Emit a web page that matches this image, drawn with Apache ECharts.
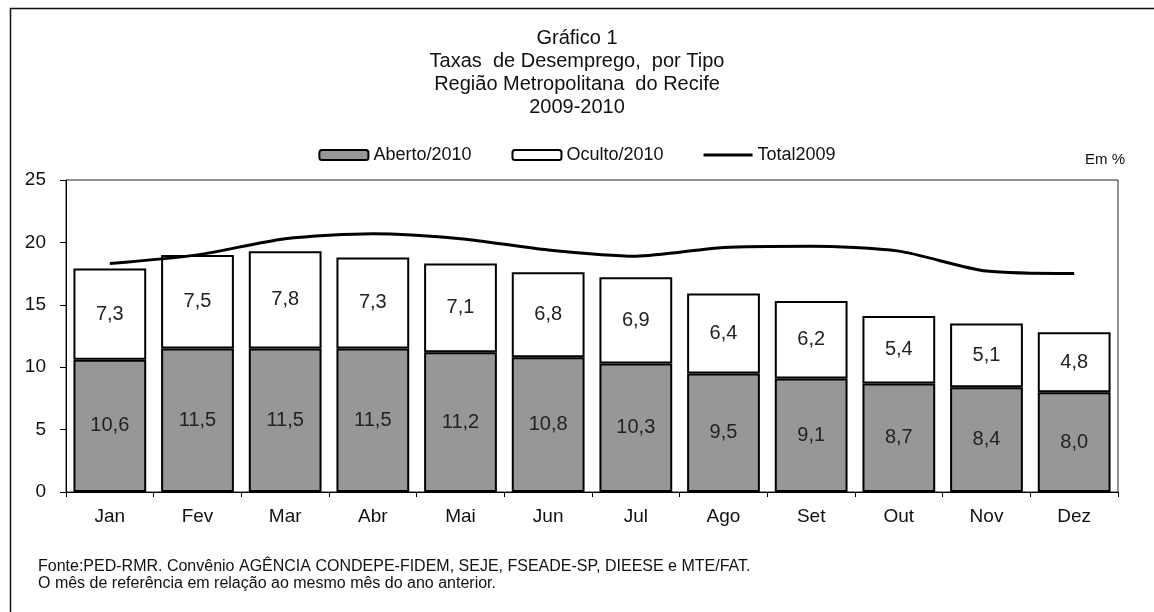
<!DOCTYPE html>
<html>
<head>
<meta charset="utf-8">
<script src="https://cdn.jsdelivr.net/npm/echarts@6/dist/echarts.min.js"></script>
<style>
  html, body { margin: 0; padding: 0; background: #fff; }
  #chart { width: 1154px; height: 612px; }
</style>
</head>
<body>
<div id="chart"></div>
<script>
// meses e valores (%)
var months = ['Jan', 'Fev', 'Mar', 'Abr', 'Mai', 'Jun', 'Jul', 'Ago', 'Set', 'Out', 'Nov', 'Dez'];
var aberto2010 = [10.6, 11.5, 11.5, 11.5, 11.2, 10.8, 10.3, 9.5, 9.1, 8.7, 8.4, 8.0];
var oculto2010 = [7.3, 7.5, 7.8, 7.3, 7.1, 6.8, 6.9, 6.4, 6.2, 5.4, 5.1, 4.8];
var total2009 = [18.3, 19.0, 20.3, 20.7, 20.3, 19.4, 18.9, 19.6, 19.7, 19.3, 17.7, 17.5];

var titleLines = ['Gráfico 1', 'Taxas  de Desemprego,  por Tipo', 'Região Metropolitana  do Recife', '2009-2010'];
var notes = ['Fonte:PED-RMR. Convênio AGÊNCIA CONDEPE-FIDEM, SEJE, FSEADE-SP, DIEESE e MTE/FAT.',
  'O mês de referência em relação ao mesmo mês do ano anterior.'];

var font = 'Liberation Sans, Arial, sans-serif';

function fmt(p) {
  return p.value.toFixed(1).replace('.', ',');
}

var chart = echarts.init(document.getElementById('chart'));
chart.setOption({
  backgroundColor: '#fff',
  animation: false,
  textStyle: { fontFamily: font, color: '#111' },
  title: {
    text: titleLines.join('\n'),
    left: 'center',
    top: 22,
    textStyle: { fontSize: 20, fontWeight: 'normal', lineHeight: 23, color: '#111', fontFamily: font }
  },
  legend: {
    top: 141,
    left: 'center',
    itemWidth: 49,
    itemHeight: 10,
    itemGap: 40,
    textStyle: { fontSize: 18, color: '#111', fontFamily: font },
    data: [
      { name: 'Aberto/2010' },
      { name: 'Oculto/2010' },
      // linha fina no lugar do simbolo padrao
      { name: 'Total2009', icon: 'path://M0,0 L49,0 L49,3 L0,3 Z' }
    ]
  },
  grid: { left: 66, right: 36, top: 180, bottom: 120, show: true, borderColor: '#222', borderWidth: 1 },
  xAxis: {
    type: 'category',
    data: months,
    axisLine: { lineStyle: { color: '#000', width: 1 } },
    axisTick: { show: true, length: 5, lineStyle: { color: '#000' } },
    axisLabel: { fontSize: 19, color: '#111', margin: 15 }
  },
  yAxis: {
    type: 'value',
    min: 0,
    max: 25,
    interval: 5,
    splitLine: { show: false },
    axisLine: { show: true, lineStyle: { color: '#000', width: 1 } },
    axisTick: { show: true, length: 6, lineStyle: { color: '#000' } },
    axisLabel: { fontSize: 19, color: '#111', margin: 20 }
  },
  series: [
    {
      name: 'Aberto/2010',
      type: 'bar',
      stack: 'total',
      barCategoryGap: '17%',
      data: aberto2010,
      itemStyle: { color: '#979797', borderColor: '#000', borderWidth: 2 },
      label: { show: true, position: 'inside', formatter: fmt, fontSize: 20, color: '#222' }
    },
    {
      name: 'Oculto/2010',
      type: 'bar',
      stack: 'total',
      data: oculto2010,
      itemStyle: { color: '#fff', borderColor: '#000', borderWidth: 2 },
      label: { show: true, position: 'inside', formatter: fmt, fontSize: 20, color: '#222' }
    },
    {
      name: 'Total2009',
      type: 'line',
      data: total2009,
      smooth: 0.25,
      symbol: 'none',
      z: 5,
      lineStyle: { color: '#000', width: 3 },
      itemStyle: { color: '#000' }
    }
  ],
  graphic: [
    {
      type: 'rect',
      shape: { x: 10.5, y: 8.5, width: 1300, height: 800 },
      style: { fill: null, stroke: '#111', lineWidth: 1.5 },
      silent: true
    },
    {
      type: 'text',
      right: 29,
      top: 152,
      style: { text: 'Em %', fill: '#111', font: '15px ' + font }
    },
    {
      type: 'text',
      left: 38,
      top: 558,
      style: { text: notes.join('\n'), fill: '#111', font: '16px ' + font, lineHeight: 17 }
    }
  ]
});
</script>
</body>
</html>
